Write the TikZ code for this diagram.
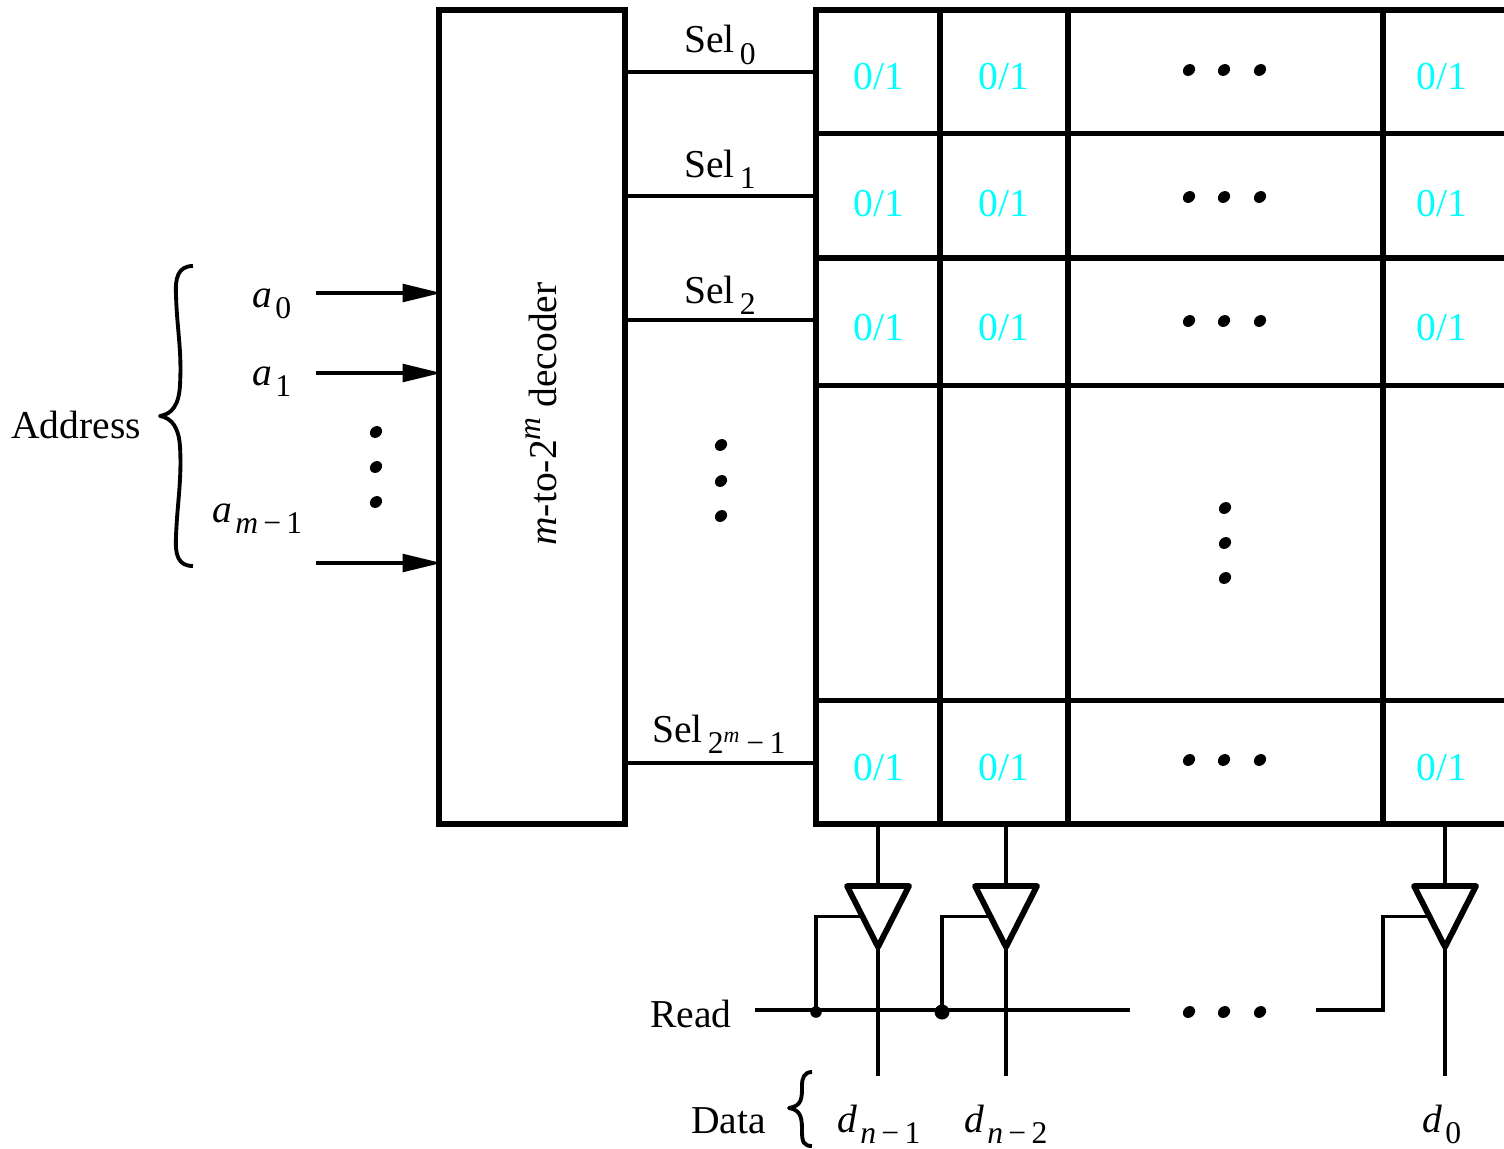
\documentclass[tikz,border=0pt]{standalone}
\usepackage{fontspec}
\setmainfont{Liberation Serif}
\usepackage{xcolor}
\usetikzlibrary{arrows.meta, shapes.geometric}
\definecolor{bitcyan}{RGB}{0,255,255}
\newcommand{\subtxt}[1]{\hspace{0.08em}\raisebox{-0.29em}{\fontsize{18}{20}\selectfont #1}}
\begin{document}
\begin{tikzpicture}[
    x=0.02cm, y=-0.02cm,
    heavy/.style={line width=3.3pt, line cap=rect},
    wire/.style={line width=2.2pt},
    curly/.style={line width=2.2pt, line join=round},
    arrow/.style={-{Triangle[length=0.78cm, width=0.35cm]}, line width=2.2pt, shorten >=-1.5pt},
    decoderbox/.style={rectangle, draw, line width=3.3pt, outer sep=0pt, minimum width=3.72cm, minimum height=16.28cm},
    bitcell/.style={font=\fontsize{22.5}{26}\selectfont, text=bitcyan, inner sep=0pt},
    label/.style={font=\fontsize{22.5}{26}\selectfont, anchor=base west, inner sep=0pt},
    dotmark/.style={ellipse, fill=black, inner sep=0pt, minimum width=0.26cm, minimum height=0.22cm, rotate=40},
    buffer/.style={isosceles triangle, isosceles triangle apex angle=54, isosceles triangle stretches, shape border rotate=270, draw, line width=3.3pt, line join=round, inner sep=0pt, outer sep=0pt, minimum width=1.24cm, minimum height=1.22cm, anchor=lower side},
]
\useasboundingbox (0,0) rectangle (1504,1149);

% decoder
\node[decoderbox] (decoder) at (532,417) {};
\node[label, anchor=center, rotate=90] (decodertext) at (541,414) {\textit{m}-to-2\raisebox{0.4em}{\fontsize{18}{20}\selectfont\textit{m}} decoder};

% memory array
\foreach \x in {816,940,1068,1383}
  \draw[heavy] (\x,10) -- (\x,824);
\foreach \y in {10,133.5,258,385.5,700.5,824}
  \draw[heavy] (816,\y) -- (1504,\y);

\foreach \row/\y in {a/77,b/204,c/328,d/768} {
  \node[bitcell] (cell\row 1) at (879,\y) {0/1};
  \node[bitcell] (cell\row 2) at (1004,\y) {0/1};
  \node[bitcell] (cell\row 3) at (1442,\y) {0/1};
}
\foreach \row/\y in {a/70,b/197,c/321,d/760}
  \foreach \x in {1189,1224,1260}
    \node[dotmark] (dot\row\x) at (\x,\y) {};
\foreach \y in {508,543,578}
  \node[dotmark] (dotcol\y) at (1225,\y) {};
\foreach \y in {445,481,516}
  \node[dotmark] (dotsel\y) at (721,\y) {};
\foreach \y in {432,467,502}
  \node[dotmark] (dotaddr\y) at (376,\y) {};

% select lines
\foreach \name/\y in {sela/72,selb/196,selc/320,seld/763} {
  \coordinate (\name) at (816,\y);
  \draw[wire] (decoder.east |- \name) -- (\name);
}
\node[label] (sellabela) at (684,53) {Sel\kern1pt\subtxt{0}};
\node[label] (sellabelb) at (684,177) {Sel\kern1pt\subtxt{1}};
\node[label] (sellabelc) at (684,303) {Sel\kern1pt\subtxt{2}};
\node[label] (sellabeld) at (652,742) {Sel\kern1pt\subtxt{2\raisebox{0.36em}{\fontsize{12.5}{14}\selectfont\textit{m}}\kern1pt\,−\,1}};

% address inputs
\foreach \name/\y in {addra/293,addrb/373,addrc/563} {
  \coordinate (\name) at (316,\y);
  \draw[arrow] (\name) -- (decoder.west |- \name);
}
\node[label] (alabela) at (252,307) {\textit{a}\subtxt{0}};
\node[label] (alabelb) at (252,385) {\textit{a}\subtxt{1}};
\node[label] (alabelc) at (212,522) {\textit{a}\subtxt{\textit{m}\,−\,1}};
\node[label] (address) at (11,438) {Address};
\draw[curly] (193,266) .. controls (178,266) and (175,278) .. (176,295) .. controls (177,330) and (182,350) .. (180,385) .. controls (179,405) and (172,414) .. (160,416) .. controls (172,418) and (179,428) .. (180,447) .. controls (182,480) and (177,505) .. (176,537) .. controls (175,555) and (178,566) .. (193,566);

% tri-state buffers
\node[buffer] (bufa) at (878,886) {};
\node[buffer] (bufb) at (1006,886) {};
\node[buffer] (bufc) at (1445,886) {};

\foreach \name/\x in {bufa/878,bufb/1006,bufc/1445} {
  \coordinate (\name top) at (\x,824);
  \coordinate (\name end) at (\x,1076);
  \draw[wire] (\name top) -- (\name.lower side);
  \draw[wire] (\name.apex) -- (\name end);
}

% read line
\coordinate (readstart) at (755,1010);
\coordinate (readstop) at (1130,1010);
\coordinate (readlast) at (1316,1010);
\node[circle, fill=black, inner sep=0pt, minimum size=0.23cm] (joina) at (816,1012) {};
\node[circle, fill=black, inner sep=0pt, minimum size=0.3cm] (joinb) at (942,1012) {};
\draw[wire] (readstart) -- (readstop);
\draw[wire] (joina.center) |- (bufa.right side);
\draw[wire] (joinb.center) |- (bufb.right side);
\draw[wire] (readlast) -- ++(67,0) |- (bufc.right side);
\foreach \x in {1189,1224,1260}
  \node[dotmark] (dotread\x) at (\x,1012) {};
\node[label] (read) at (650,1027) {Read};

% data outputs
\node[label] (data) at (691,1133) {Data};
\draw[curly] (812,1072) .. controls (804,1072) and (802,1078) .. (802,1086) .. controls (802,1098) and (802,1106) .. (789,1108) .. controls (802,1110) and (802,1120) .. (802,1132) .. controls (802,1142) and (804,1146) .. (812,1146);
\node[label] (dlabela) at (837,1132) {\textit{d}\subtxt{\textit{n}\,−\,1}};
\node[label] (dlabelb) at (964,1132) {\textit{d}\subtxt{\textit{n}\,−\,2}};
\node[label] (dlabelc) at (1422,1132) {\textit{d}\subtxt{0}};

\end{tikzpicture}
\end{document}
